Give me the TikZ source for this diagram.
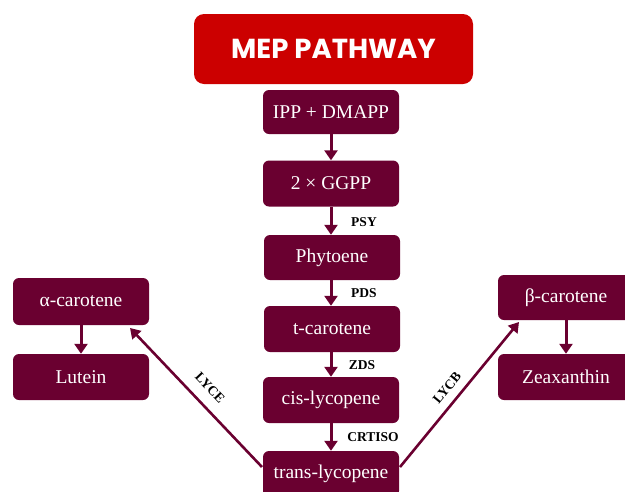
\documentclass[tikz,border=0pt]{standalone}
\usepackage{fontspec}
\setmainfont{Liberation Serif}
\newfontfamily\poppins{Poppins}
\usetikzlibrary{arrows.meta}
\definecolor{maroon}{HTML}{6A0030}
\definecolor{titlered}{HTML}{CC0000}
\tikzset{
  box/.style={draw=none, fill=maroon, rounded corners=6pt, minimum width=136pt, minimum height=46pt, text=white, font=\fontsize{19.5}{22}\selectfont, inner sep=0pt},
  titlebox/.style={fill=titlered, rounded corners=10pt, minimum width=279pt, minimum height=70pt, text=white, font=\poppins\bfseries\fontsize{27.5}{30}\selectfont, inner sep=0pt},
  arr/.style={draw=maroon, line width=3pt, -{Triangle[width=13pt,length=10pt]}},
  darr/.style={draw=maroon, line width=2.6pt, -{Triangle[width=12pt,length=10pt]}},
  enz/.style={font=\bfseries\fontsize{13.5}{15}\selectfont, text=black, inner sep=0pt}
}
\begin{document}
\begin{tikzpicture}[x=1pt, y=-1pt]
\useasboundingbox (0,0) rectangle (625,491);
\clip (0,0) rectangle (625,491);
\node[titlebox] (title) at (333.5,49) {MEP PATHWAY};
\node[box, minimum height=44pt] (ipp) at (331,112) {IPP + DMAPP};
\node[box] (ggpp) at (331,183.5) {2 × GGPP};
\node[box, minimum height=45pt] (phy) at (332,257.5) {Phytoene};
\node[box] (tcar) at (332,329) {t-carotene};
\node[box] (cis) at (331,400) {cis-lycopene};
\node[box] (trans) at (331,474) {trans-lycopene};
\node[box, minimum height=47pt] (alpha) at (81,301.5) {α-carotene};
\node[box] (lutein) at (81,377) {Lutein};
\node[box, minimum height=45pt] (beta) at (566,297.5) {β-carotene};
\node[box] (zea) at (566,377) {Zeaxanthin};

\draw[arr] (ipp.south) -- (ggpp.north);
\draw[arr] (ggpp.south -| 331,0) -- (phy.north -| 331,0);
\draw[arr] (phy.south -| 331,0) -- (tcar.north -| 331,0);
\draw[arr] (tcar.south -| 331,0) -- (cis.north -| 331,0);
\draw[arr] (cis.south) -- (trans.north);
\draw[arr] (alpha.south) -- (lutein.north);
\draw[arr] (beta.south) -- (zea.north);

\node[enz] (psy) at (364,222) {PSY};
\node[enz] (pds) at (364,293) {PDS};
\node[enz] (zds) at (362,365) {ZDS};
\node[enz] (crtiso) at (373,437) {CRTISO};

\coordinate (lyceS) at (262,467);
\coordinate (lyceT) at (130,328);
\coordinate (lycbS) at (400,467);
\coordinate (lycbT) at (519,322);
\draw[darr] (lyceS) -- (lyceT);
\draw[darr] (lycbS) -- (lycbT);
\node[enz, rotate=-46.5] (lyce) at (210,388) {LYCE};
\node[enz, rotate=50.6] (lycb) at (447,388) {LYCB};
\end{tikzpicture}
\end{document}
